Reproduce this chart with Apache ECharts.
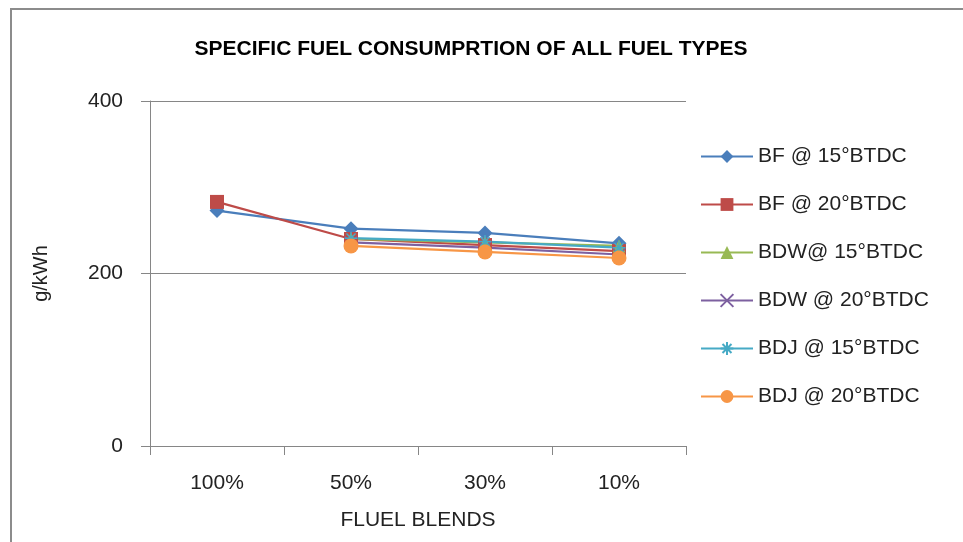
<!DOCTYPE html>
<html>
<head>
<meta charset="utf-8">
<script src="https://cdn.jsdelivr.net/npm/echarts@6/dist/echarts.min.js"></script>
<style>
  html, body { margin: 0; padding: 0; background: #fff; }
  #frame { position: absolute; left: 10px; top: 8px; width: 970px; height: 560px; border: 2px solid #8c8c8c; box-sizing: border-box; }
  #chart { position: absolute; left: 0; top: 0; width: 963px; height: 542px; }
</style>
</head>
<body>
<div id="frame"></div>
<div id="chart"></div>
<script>
// Fuel blend categories (x axis)
const blends = ['100%', '50%', '30%', '10%'];
const yTicks = [0, 200, 400];

// Specific fuel consumption, g/kWh
const bf15   = [273, 252, 247, 235];
const bf20   = [283, 240, 233, 226];
const bdw15  = [null, 240, 236, 232];
const bdw20  = [null, 236, 230, 222];
const bdj15  = [null, 241, 237, 230];
const bdj20  = [null, 232, 225, 218];

const names = ['BF @ 15°BTDC', 'BF @ 20°BTDC', 'BDW@ 15°BTDC', 'BDW @ 20°BTDC', 'BDJ @ 15°BTDC', 'BDJ @ 20°BTDC'];
const values = [bf15, bf20, bdw15, bdw20, bdj15, bdj20];
const colors = ['#4A7EBB', '#BE4B48', '#98B954', '#7D60A0', '#46AAC5', '#F79646'];

const crossPath = 'path://M0,0L10,10M10,0L0,10';
const starPath = 'path://M5,0L5,10M0,5L10,5M1.5,1.5L8.5,8.5M8.5,1.5L1.5,8.5';
const symbols = ['diamond', 'rect', 'triangle', crossPath, starPath, 'circle'];
const sizes = [15, 14, 13, 12, 13, 15];

const font = '"Liberation Sans", Arial, sans-serif';

const series = names.map((n, i) => {
  const stroked = i === 3 || i === 4;
  return {
    name: n,
    type: 'line',
    data: values[i],
    symbol: symbols[i],
    symbolSize: sizes[i],
    showAllSymbol: true,
    lineStyle: { color: colors[i], width: 2.2 },
    itemStyle: stroked
      ? { color: colors[i], borderColor: colors[i], borderWidth: 1.5 }
      : { color: colors[i] },
    emphasis: { disabled: true },
    animation: false
  };
});

const chart = echarts.init(document.getElementById('chart'), null, { renderer: 'canvas' });
chart.setOption({
  backgroundColor: 'transparent',
  title: {
    text: 'SPECIFIC FUEL CONSUMPRTION OF ALL FUEL TYPES',
    left: 466, top: 34, textAlign: 'center',
    textStyle: { fontFamily: font, fontWeight: 'bold', fontSize: 21, color: '#000' }
  },
  legend: {
    orient: 'vertical',
    left: 700, top: 146,
    padding: 0,
    itemWidth: 52, itemHeight: 16,
    itemGap: 27,
    data: names,
    textStyle: { fontFamily: font, fontSize: 21, color: '#222' }
  },
  grid: { left: 150, right: 277, top: 101, bottom: 96, containLabel: false },
  xAxis: {
    type: 'category',
    data: blends,
    boundaryGap: true,
    name: 'FLUEL BLENDS',
    nameLocation: 'middle',
    nameGap: 64,
    nameTextStyle: { fontFamily: font, fontSize: 21, color: '#222' },
    axisLine: { lineStyle: { color: '#868686', width: 1 } },
    axisTick: { show: true, length: 9, lineStyle: { color: '#868686' } },
    axisLabel: { fontFamily: font, fontSize: 21, color: '#222', margin: 27 }
  },
  yAxis: {
    type: 'value',
    min: yTicks[0], max: yTicks[yTicks.length - 1], interval: yTicks[1] - yTicks[0],
    name: 'g/kWh',
    nameLocation: 'middle',
    nameGap: 99,
    nameRotate: 90,
    nameTextStyle: { fontFamily: font, fontSize: 20, color: '#222' },
    axisLine: { show: true, lineStyle: { color: '#868686', width: 1 } },
    axisTick: { show: true, length: 9, lineStyle: { color: '#868686' } },
    axisLabel: { fontFamily: font, fontSize: 21, color: '#222', margin: 27 },
    splitLine: { show: true, lineStyle: { color: '#868686', width: 1 } }
  },
  series: series
});
</script>
</body>
</html>
